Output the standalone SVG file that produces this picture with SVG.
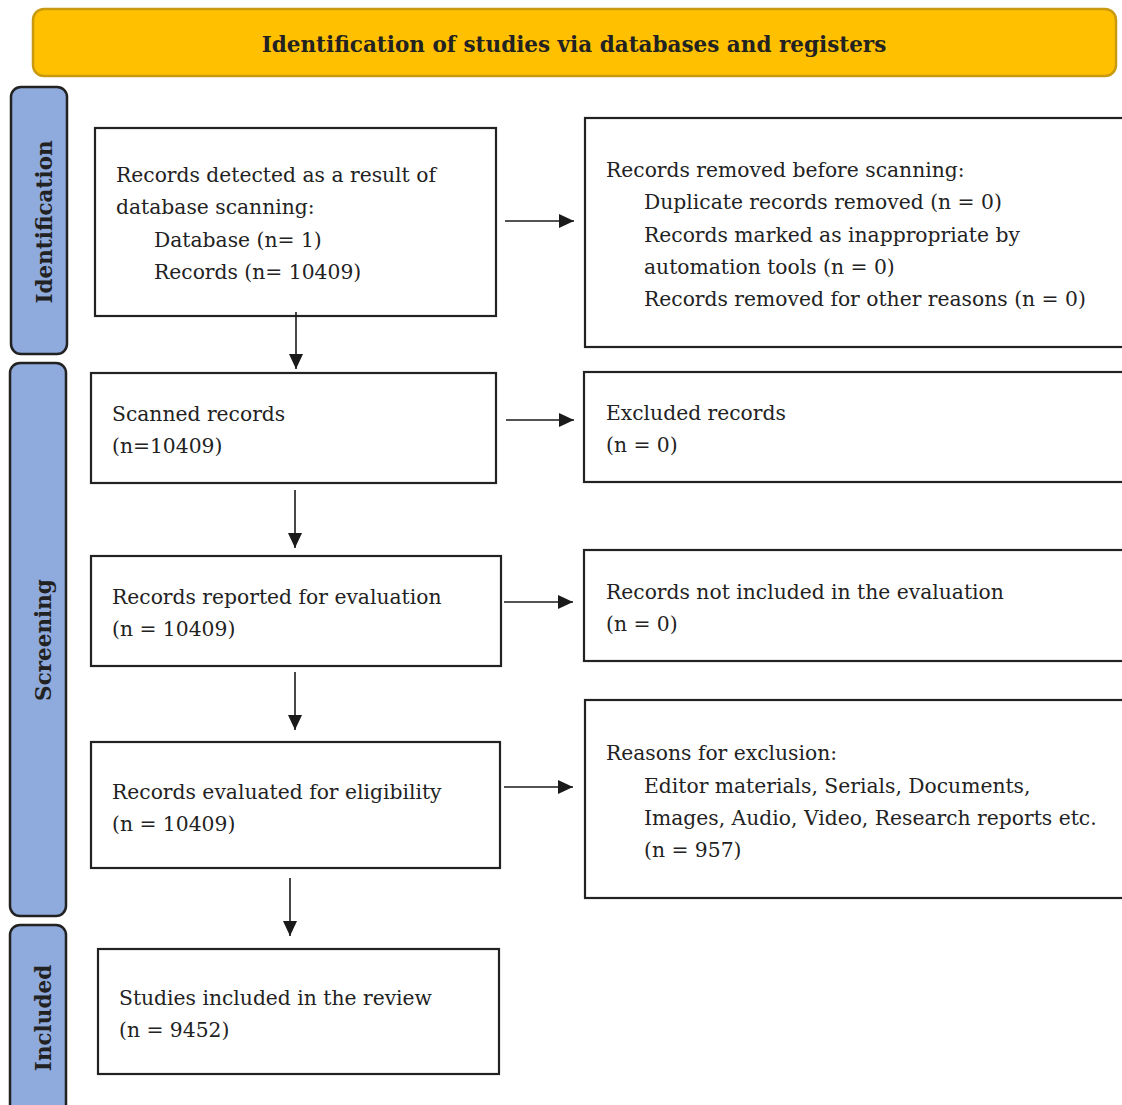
<svg xmlns="http://www.w3.org/2000/svg" width="1122" height="1105" viewBox="0 0 1122 1105">
<defs>
<marker id="ah" markerWidth="15" markerHeight="14" refX="15" refY="7" orient="auto" markerUnits="userSpaceOnUse" viewBox="0 0 15 14">
<path d="M0,0 L15,7 L0,14 z" fill="#1a1a1a"/>
</marker>
<style>
.box{fill:#fff;stroke:#222;stroke-width:2.2}
.side{fill:#8FAADC;stroke:#222;stroke-width:2.5}
.t{font-family:"DejaVu Serif","Liberation Serif",serif;font-size:20.3px;fill:#222}
.sl{font-family:"DejaVu Serif","Liberation Serif",serif;font-size:21.5px;font-weight:bold;fill:#222;text-anchor:middle}
.c{stroke:#1a1a1a;stroke-width:1.6;fill:none;marker-end:url(#ah)}
</style>
</defs>
<rect width="1122" height="1105" fill="#fff"/>
<g id="header">
<rect x="33" y="9" width="1083" height="67" rx="11" fill="#FFC000" stroke="#C9990F" stroke-width="2.5"/>
<text x="574" y="52" class="sl">Identification of studies via databases and registers</text>
</g>
<g id="side-identification">
<rect x="11" y="87" width="56" height="267" rx="10" class="side"/>
<text class="sl" transform="translate(52,222) rotate(-90)">Identification</text>
</g>
<g id="side-screening">
<rect x="10" y="363" width="56" height="553" rx="10" class="side"/>
<text class="sl" transform="translate(51,640) rotate(-90)">Screening</text>
</g>
<g id="side-included">
<rect x="10" y="925" width="56" height="200" rx="10" class="side"/>
<text class="sl" transform="translate(51,1018) rotate(-90)">Included</text>
</g>
<g id="n1">
<rect x="95" y="128" width="401" height="188" class="box"/>
<text class="t"><tspan x="116" y="182">Records detected as a result of</tspan><tspan x="116" y="214">database scanning:</tspan><tspan x="154" y="247">Database (n= 1)</tspan><tspan x="154" y="279">Records (n= 10409)</tspan></text>
</g>
<g id="r1">
<rect x="585" y="118" width="560" height="229" class="box"/>
<text class="t"><tspan x="606" y="177">Records removed before scanning:</tspan><tspan x="644" y="209">Duplicate records removed (n = 0)</tspan><tspan x="644" y="242">Records marked as inappropriate by</tspan><tspan x="644" y="274">automation tools (n = 0)</tspan><tspan x="644" y="306">Records removed for other reasons (n = 0)</tspan></text>
</g>
<g id="n2">
<rect x="91" y="373" width="405" height="110" class="box"/>
<text class="t"><tspan x="112" y="421">Scanned records</tspan><tspan x="112" y="453">(n=10409)</tspan></text>
</g>
<g id="r2">
<rect x="584" y="372" width="560" height="110" class="box"/>
<text class="t"><tspan x="606" y="420">Excluded records</tspan><tspan x="606" y="452">(n = 0)</tspan></text>
</g>
<g id="n3">
<rect x="91" y="556" width="410" height="110" class="box"/>
<text class="t"><tspan x="112" y="604">Records reported for evaluation</tspan><tspan x="112" y="636">(n = 10409)</tspan></text>
</g>
<g id="r3">
<rect x="584" y="550" width="560" height="111" class="box"/>
<text class="t"><tspan x="606" y="599">Records not included in the evaluation</tspan><tspan x="606" y="631">(n = 0)</tspan></text>
</g>
<g id="n4">
<rect x="91" y="742" width="409" height="126" class="box"/>
<text class="t"><tspan x="112" y="799">Records evaluated for eligibility</tspan><tspan x="112" y="831">(n = 10409)</tspan></text>
</g>
<g id="r4">
<rect x="585" y="700" width="560" height="198" class="box"/>
<text class="t"><tspan x="606" y="760">Reasons for exclusion:</tspan><tspan x="644" y="793">Editor materials, Serials, Documents,</tspan><tspan x="644" y="825">Images, Audio, Video, Research reports etc.</tspan><tspan x="644" y="857">(n = 957)</tspan></text>
</g>
<g id="n5">
<rect x="98" y="949" width="401" height="125" class="box"/>
<text class="t"><tspan x="119" y="1005">Studies included in the review</tspan><tspan x="119" y="1037">(n = 9452)</tspan></text>
</g>
<g id="connectors">
<line x1="505" y1="221" x2="574" y2="221" class="c"/>
<line x1="296" y1="312" x2="296" y2="369" class="c"/>
<line x1="506" y1="420" x2="574" y2="420" class="c"/>
<line x1="295" y1="490" x2="295" y2="548" class="c"/>
<line x1="504" y1="602" x2="573" y2="602" class="c"/>
<line x1="295" y1="672" x2="295" y2="730" class="c"/>
<line x1="504" y1="787" x2="573" y2="787" class="c"/>
<line x1="290" y1="878" x2="290" y2="936" class="c"/>
</g>
</svg>
